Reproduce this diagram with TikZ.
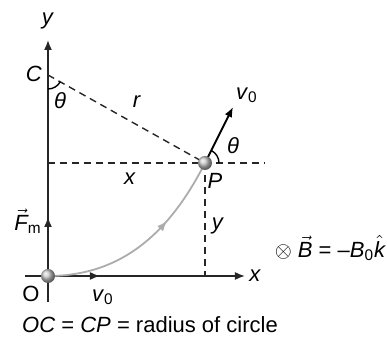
\documentclass[tikz,border=0pt]{standalone}
\usepackage{fontspec}
\setmainfont{Liberation Sans}
\usetikzlibrary{arrows.meta,positioning,decorations.markings}

\tikzset{
  lbl/.style={font=\fontsize{11}{13}\selectfont, inner sep=1pt},
  axisline/.style={line width=0.8pt, black!85},
  guide/.style={line width=0.7pt, black!85, dash pattern=on 3.5pt off 2.5pt},
  bead/.style={circle, minimum size=7pt, inner sep=0pt, shading=ball, ball color=gray!45},
  tip/.style={-{Latex[length=5pt,width=4pt]}}
}

\begin{document}
\begin{tikzpicture}[x=0.5pt, y=0.5pt]
  \useasboundingbox (0,0) rectangle (387,347);

  % Points of the construction
  \coordinate (O) at (48,71);
  \coordinate (C) at (48,272);
  \coordinate (P) at (205,184);
  \coordinate (foot) at (205,71);
  \coordinate (hleft) at (48,184);
  \coordinate (hright) at (265,184);

  % Axes
  \draw[axisline, tip] (48,45) -- (48,307) coordinate (ytip);
  \draw[axisline, tip] (25,71) -- (245,71) coordinate (xtip);
  \draw[axisline, tip] (O) -- (48,130) coordinate (Ftip);
  \draw[axisline, tip] (O) -- (100,71) coordinate (vtip);

  % Radius and projections
  \draw[guide] (C) -- (P);
  \draw[guide] (hleft) -- (hright);
  \draw[guide] (P) -- (foot);

  % Angles
  \draw[line width=0.7pt] ([shift={(-90:7pt)}]C) arc[start angle=-90, end angle=-29, radius=7pt];
  \draw[line width=0.7pt] ([shift={(0:7pt)}]P) arc[start angle=0, end angle=63, radius=7pt];

  % Path of the particle
  \draw[line width=0.9pt, gray!65,
        decoration={markings, mark=at position 0.66 with {\arrow{Latex[length=5pt,width=4pt]}}},
        postaction={decorate}] (O) to[out=0, in=243] (P);

  % Velocity at P
  \draw[line width=0.9pt, black, tip] (P) -- (233,240) coordinate (vP);

  % Particle
  \node[bead] (ballO) at (O) {};
  \node[bead] (ballP) at (P) {};

  % Labels
  \node[lbl] (ylab) at (48,326) {\textit{y}};
  \node[lbl, right=1pt of xtip] (xlab) {\textit{x}};
  \node[lbl] (Clab) at (34,273) {\textit{C}};
  \node[lbl] (thC) at (60,246) {\textit{θ}};
  \node[lbl] (rlab) at (137,245) {\textit{r}};
  \node[lbl] (vPlab) at (247,252) {\textit{v}\textsubscript{0}};
  \node[lbl] (thP) at (233,201) {\textit{θ}};
  \node[lbl] (Plab) at (215,166) {\textit{P}};
  \node[lbl] (xdist) at (130,168) {\textit{x}};
  \node[lbl] (ydist) at (218,121) {\textit{y}};
  \node[lbl] (Flab) at (28,126) {$\vec{\mbox{\itshape F}}$\textsubscript{m}};
  \node[lbl] (Olab) at (31,53) {O};
  \node[lbl] (vOlab) at (103,50) {\textit{v}\textsubscript{0}};
  \node[lbl] (Blab) at (330,99) {$\otimes$ $\vec{\mbox{\itshape B}}$ = –\textit{B}\textsubscript{0}$\hat{\mbox{\itshape k}}$};
  \node[lbl] (note) at (150,22) {\textit{OC} = \textit{CP} = radius of circle};
\end{tikzpicture}
\end{document}
